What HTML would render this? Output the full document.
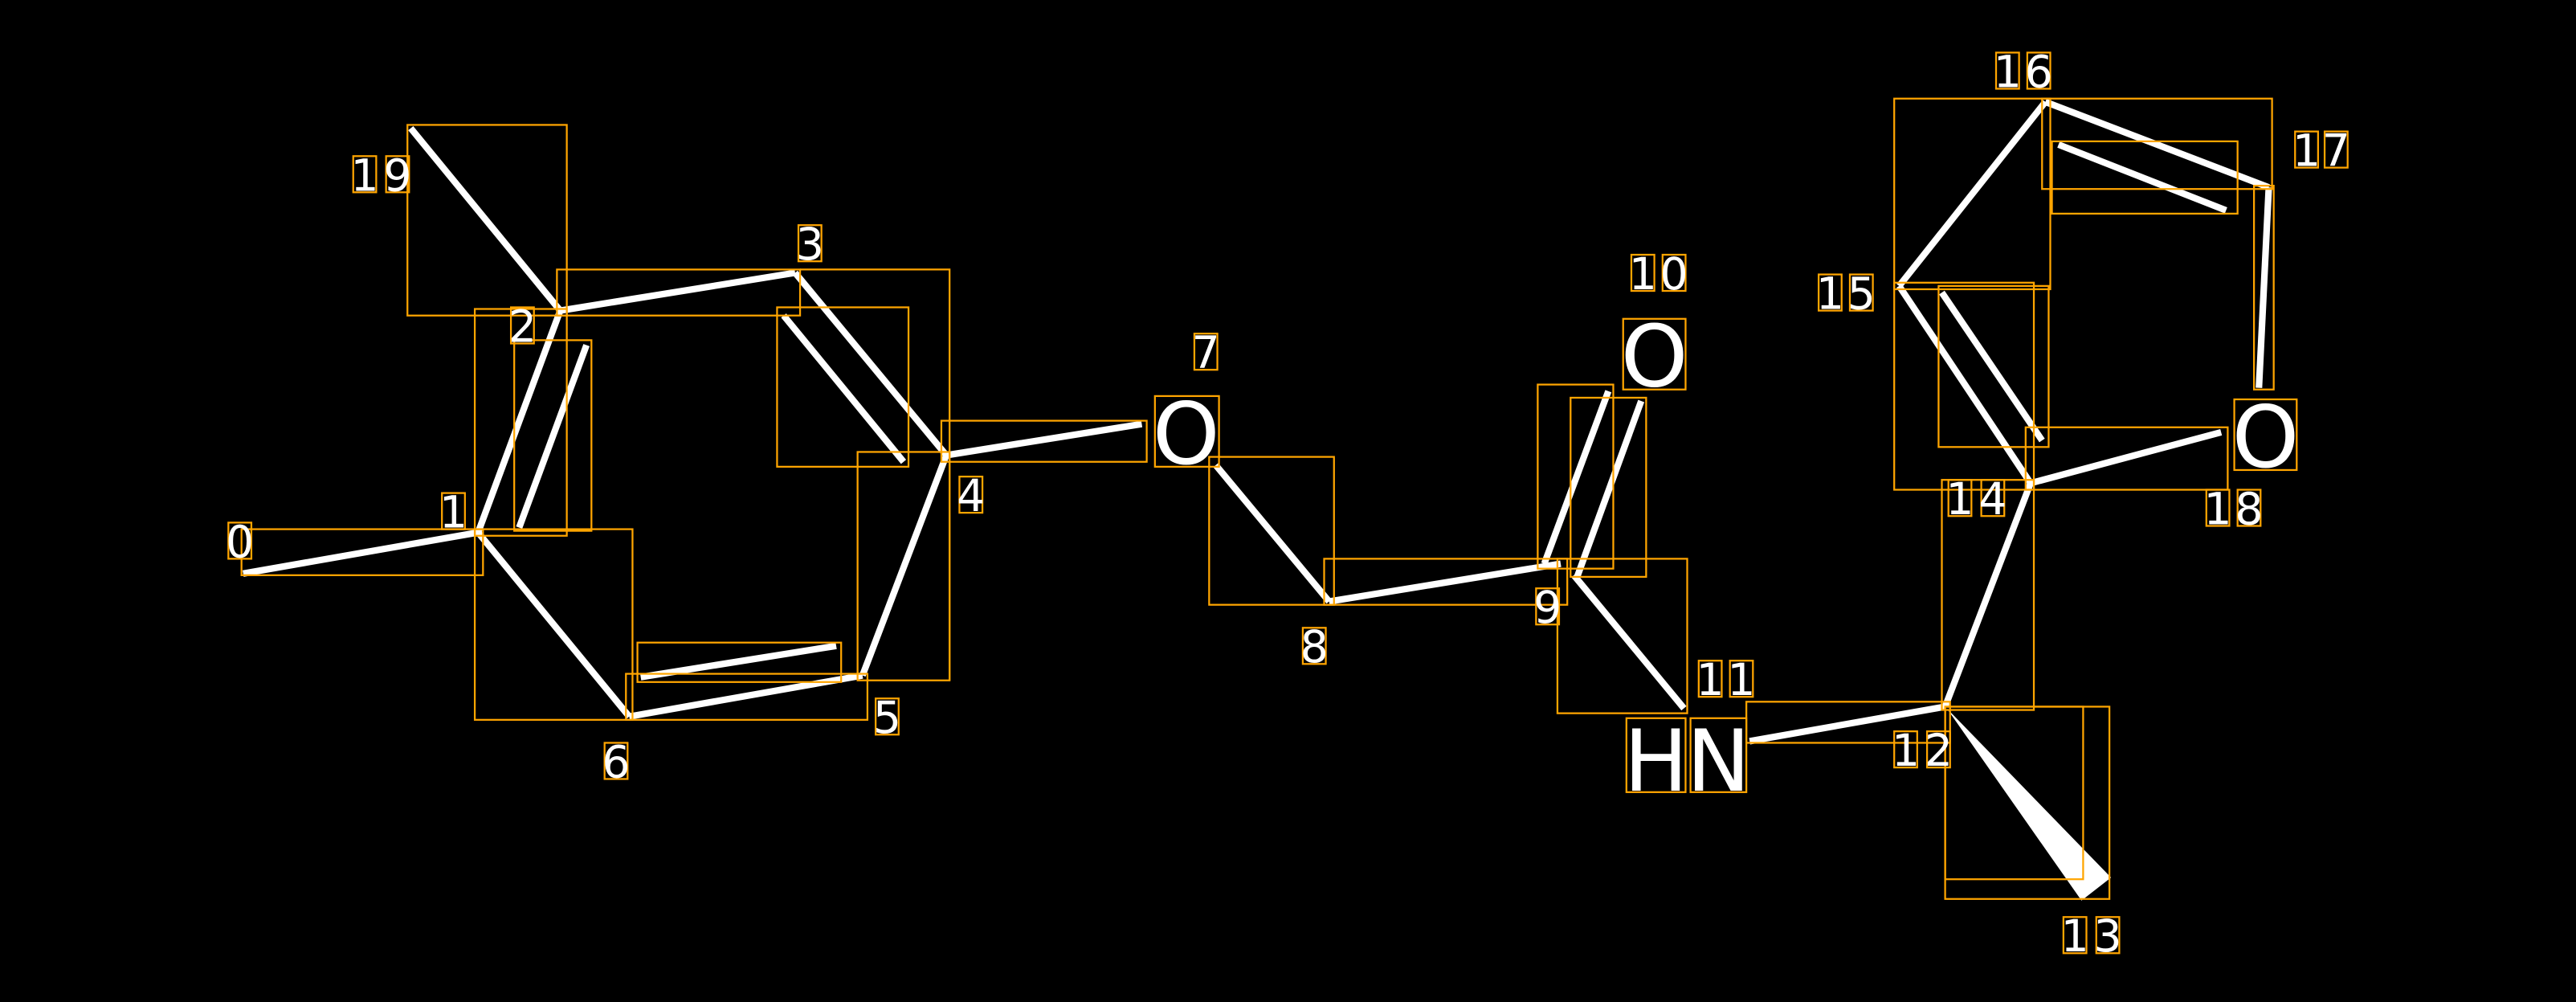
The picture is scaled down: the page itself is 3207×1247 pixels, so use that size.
<!DOCTYPE html>
<html><head><meta charset="utf-8"><style>
html,body{margin:0;padding:0;background:#000;}
svg{display:block;}
text{font-family:"DejaVu Sans","Liberation Sans",sans-serif;fill:#fff;text-anchor:middle;}
.d{font-size:27px;}
.o{font-size:52px;}
.b{stroke:#fff;stroke-width:4;stroke-linecap:butt;fill:none;}
.r{stroke:#FFA500;stroke-width:1.1;fill:none;}
</style></head><body>
<svg width="3207" height="1247" viewBox="0 0 1568 609.7" xmlns="http://www.w3.org/2000/svg">
<rect x="0" y="0" width="1568" height="610" fill="#000"/>
<g class="b">
<line x1="148" y1="349" x2="291" y2="324"/>
<line x1="291" y1="324" x2="341" y2="189"/>
<line x1="316" y1="321" x2="357" y2="210"/>
<line x1="250" y1="78" x2="341" y2="189"/>
<line x1="341" y1="189" x2="484" y2="166"/>
<line x1="484" y1="166" x2="576" y2="277"/>
<line x1="477" y1="192" x2="550" y2="281"/>
<line x1="576" y1="277" x2="525" y2="411"/>
<line x1="525" y1="411" x2="383" y2="436"/>
<line x1="390" y1="412" x2="509" y2="393"/>
<line x1="383" y1="436" x2="291" y2="324"/>
<line x1="576" y1="277" x2="695" y2="258"/>
<line x1="740" y1="283" x2="809" y2="366"/>
<line x1="809" y1="366" x2="950" y2="343"/>
<line x1="940" y1="343" x2="979" y2="238"/>
<line x1="960" y1="351" x2="999" y2="244"/>
<line x1="958" y1="350" x2="1025" y2="431"/>
<line x1="1065" y1="451" x2="1184" y2="430"/>
<line x1="1184" y1="430" x2="1236" y2="294"/>
<line x1="1236" y1="294" x2="1156" y2="174"/>
<line x1="1182" y1="178" x2="1243" y2="268"/>
<line x1="1156" y1="174" x2="1245" y2="62"/>
<line x1="1245" y1="62" x2="1381" y2="114"/>
<line x1="1253" y1="88" x2="1355" y2="128"/>
<line x1="1381" y1="114" x2="1375" y2="236"/>
<line x1="1236" y1="294" x2="1352" y2="263"/>
</g>
<polygon points="1185,431 1267,548 1285,534" fill="#fff"/>
<g class="r">
<rect x="248" y="76" width="97" height="116"/>
<rect x="339" y="164" width="148" height="28"/>
<path d="M487,164 H578 V414"/>
<rect x="473" y="187" width="80" height="97"/>
<rect x="289" y="188" width="56" height="138"/>
<rect x="313" y="207" width="47" height="116"/>
<rect x="147" y="322" width="147" height="28"/>
<rect x="289" y="322" width="96" height="116"/>
<rect x="381" y="410" width="147" height="28"/>
<rect x="388" y="391" width="124" height="24"/>
<rect x="522" y="275" width="56" height="139"/>
<rect x="573" y="256" width="125" height="25"/>
<rect x="703" y="241" width="39" height="43"/>
<rect x="736" y="278" width="76" height="90"/>
<rect x="806" y="340" width="148" height="28"/>
<rect x="936" y="234" width="46" height="112"/>
<rect x="956" y="242" width="46" height="109"/>
<rect x="948" y="340" width="79" height="94"/>
<rect x="988" y="194" width="38" height="43"/>
<rect x="990" y="437" width="36" height="45"/>
<rect x="1029" y="437" width="34" height="45"/>
<rect x="1063" y="427" width="124" height="25"/>
<rect x="1182" y="292" width="56" height="140"/>
<rect x="1184" y="430" width="100" height="117"/>
<rect x="1184" y="430" width="84" height="105"/>
<rect x="1153" y="60" width="95" height="116"/>
<rect x="1153" y="172" width="85" height="126"/>
<rect x="1180" y="174" width="67" height="98"/>
<rect x="1243" y="60" width="140" height="55"/>
<rect x="1249" y="86" width="113" height="44"/>
<rect x="1372" y="113" width="12" height="124"/>
<rect x="1360" y="243" width="38" height="43"/>
<rect x="1233" y="260" width="123" height="38"/>
<rect x="139" y="318" width="14" height="22"/>
<rect x="269" y="300" width="14" height="22"/>
<rect x="311" y="187" width="14" height="22"/>
<rect x="486" y="137" width="14" height="22"/>
<rect x="584" y="290" width="14" height="22"/>
<rect x="533" y="425" width="14" height="22"/>
<rect x="368" y="452" width="14" height="22"/>
<rect x="727" y="203" width="14" height="22"/>
<rect x="793" y="382" width="14" height="22"/>
<rect x="935" y="358" width="14" height="22"/>
<rect x="215" y="95" width="14" height="22"/><rect x="235" y="95" width="14" height="22"/>
<rect x="993" y="155" width="14" height="22"/><rect x="1012" y="155" width="14" height="22"/>
<rect x="1034" y="402" width="14" height="22"/><rect x="1053" y="402" width="14" height="22"/>
<rect x="1153" y="445" width="14" height="22"/><rect x="1173" y="445" width="14" height="22"/>
<rect x="1256" y="558" width="14" height="22"/><rect x="1276" y="558" width="14" height="22"/>
<rect x="1186" y="292" width="14" height="22"/><rect x="1206" y="292" width="14" height="22"/>
<rect x="1107" y="167" width="14" height="22"/><rect x="1126" y="167" width="14" height="22"/>
<rect x="1215" y="32" width="14" height="22"/><rect x="1234" y="32" width="14" height="22"/>
<rect x="1397" y="80" width="14" height="22"/><rect x="1415" y="80" width="14" height="22"/>
<rect x="1343" y="298" width="14" height="22"/><rect x="1362" y="298" width="14" height="22"/>
</g>
<g class="d">
<text x="146" y="339">0</text>
<text x="276" y="321">1</text>
<text x="318" y="208">2</text>
<text x="493" y="158">3</text>
<text x="591" y="311">4</text>
<text x="540" y="446">5</text>
<text x="375" y="473">6</text>
<text x="734" y="224">7</text>
<text x="800" y="403">8</text>
<text x="942" y="379">9</text>
<text x="222" y="116">1</text><text x="242" y="116">9</text>
<text x="1000" y="176">1</text><text x="1019" y="176">0</text>
<text x="1041" y="423">1</text><text x="1060" y="423">1</text>
<text x="1160" y="466">1</text><text x="1180" y="466">2</text>
<text x="1263" y="579">1</text><text x="1283" y="579">3</text>
<text x="1193" y="313">1</text><text x="1213" y="313">4</text>
<text x="1114" y="188">1</text><text x="1133" y="188">5</text>
<text x="1222" y="53">1</text><text x="1241" y="53">6</text>
<text x="1404" y="101">1</text><text x="1422" y="101">7</text>
<text x="1350" y="319">1</text><text x="1369" y="319">8</text>
</g>
<g class="o">
<text x="722" y="282">O</text>
<text x="1007" y="235">O</text>
<text x="1379" y="284">O</text>
<text x="1008" y="481">H</text>
<text x="1046" y="481">N</text>
</g>
</svg>
</body></html>
